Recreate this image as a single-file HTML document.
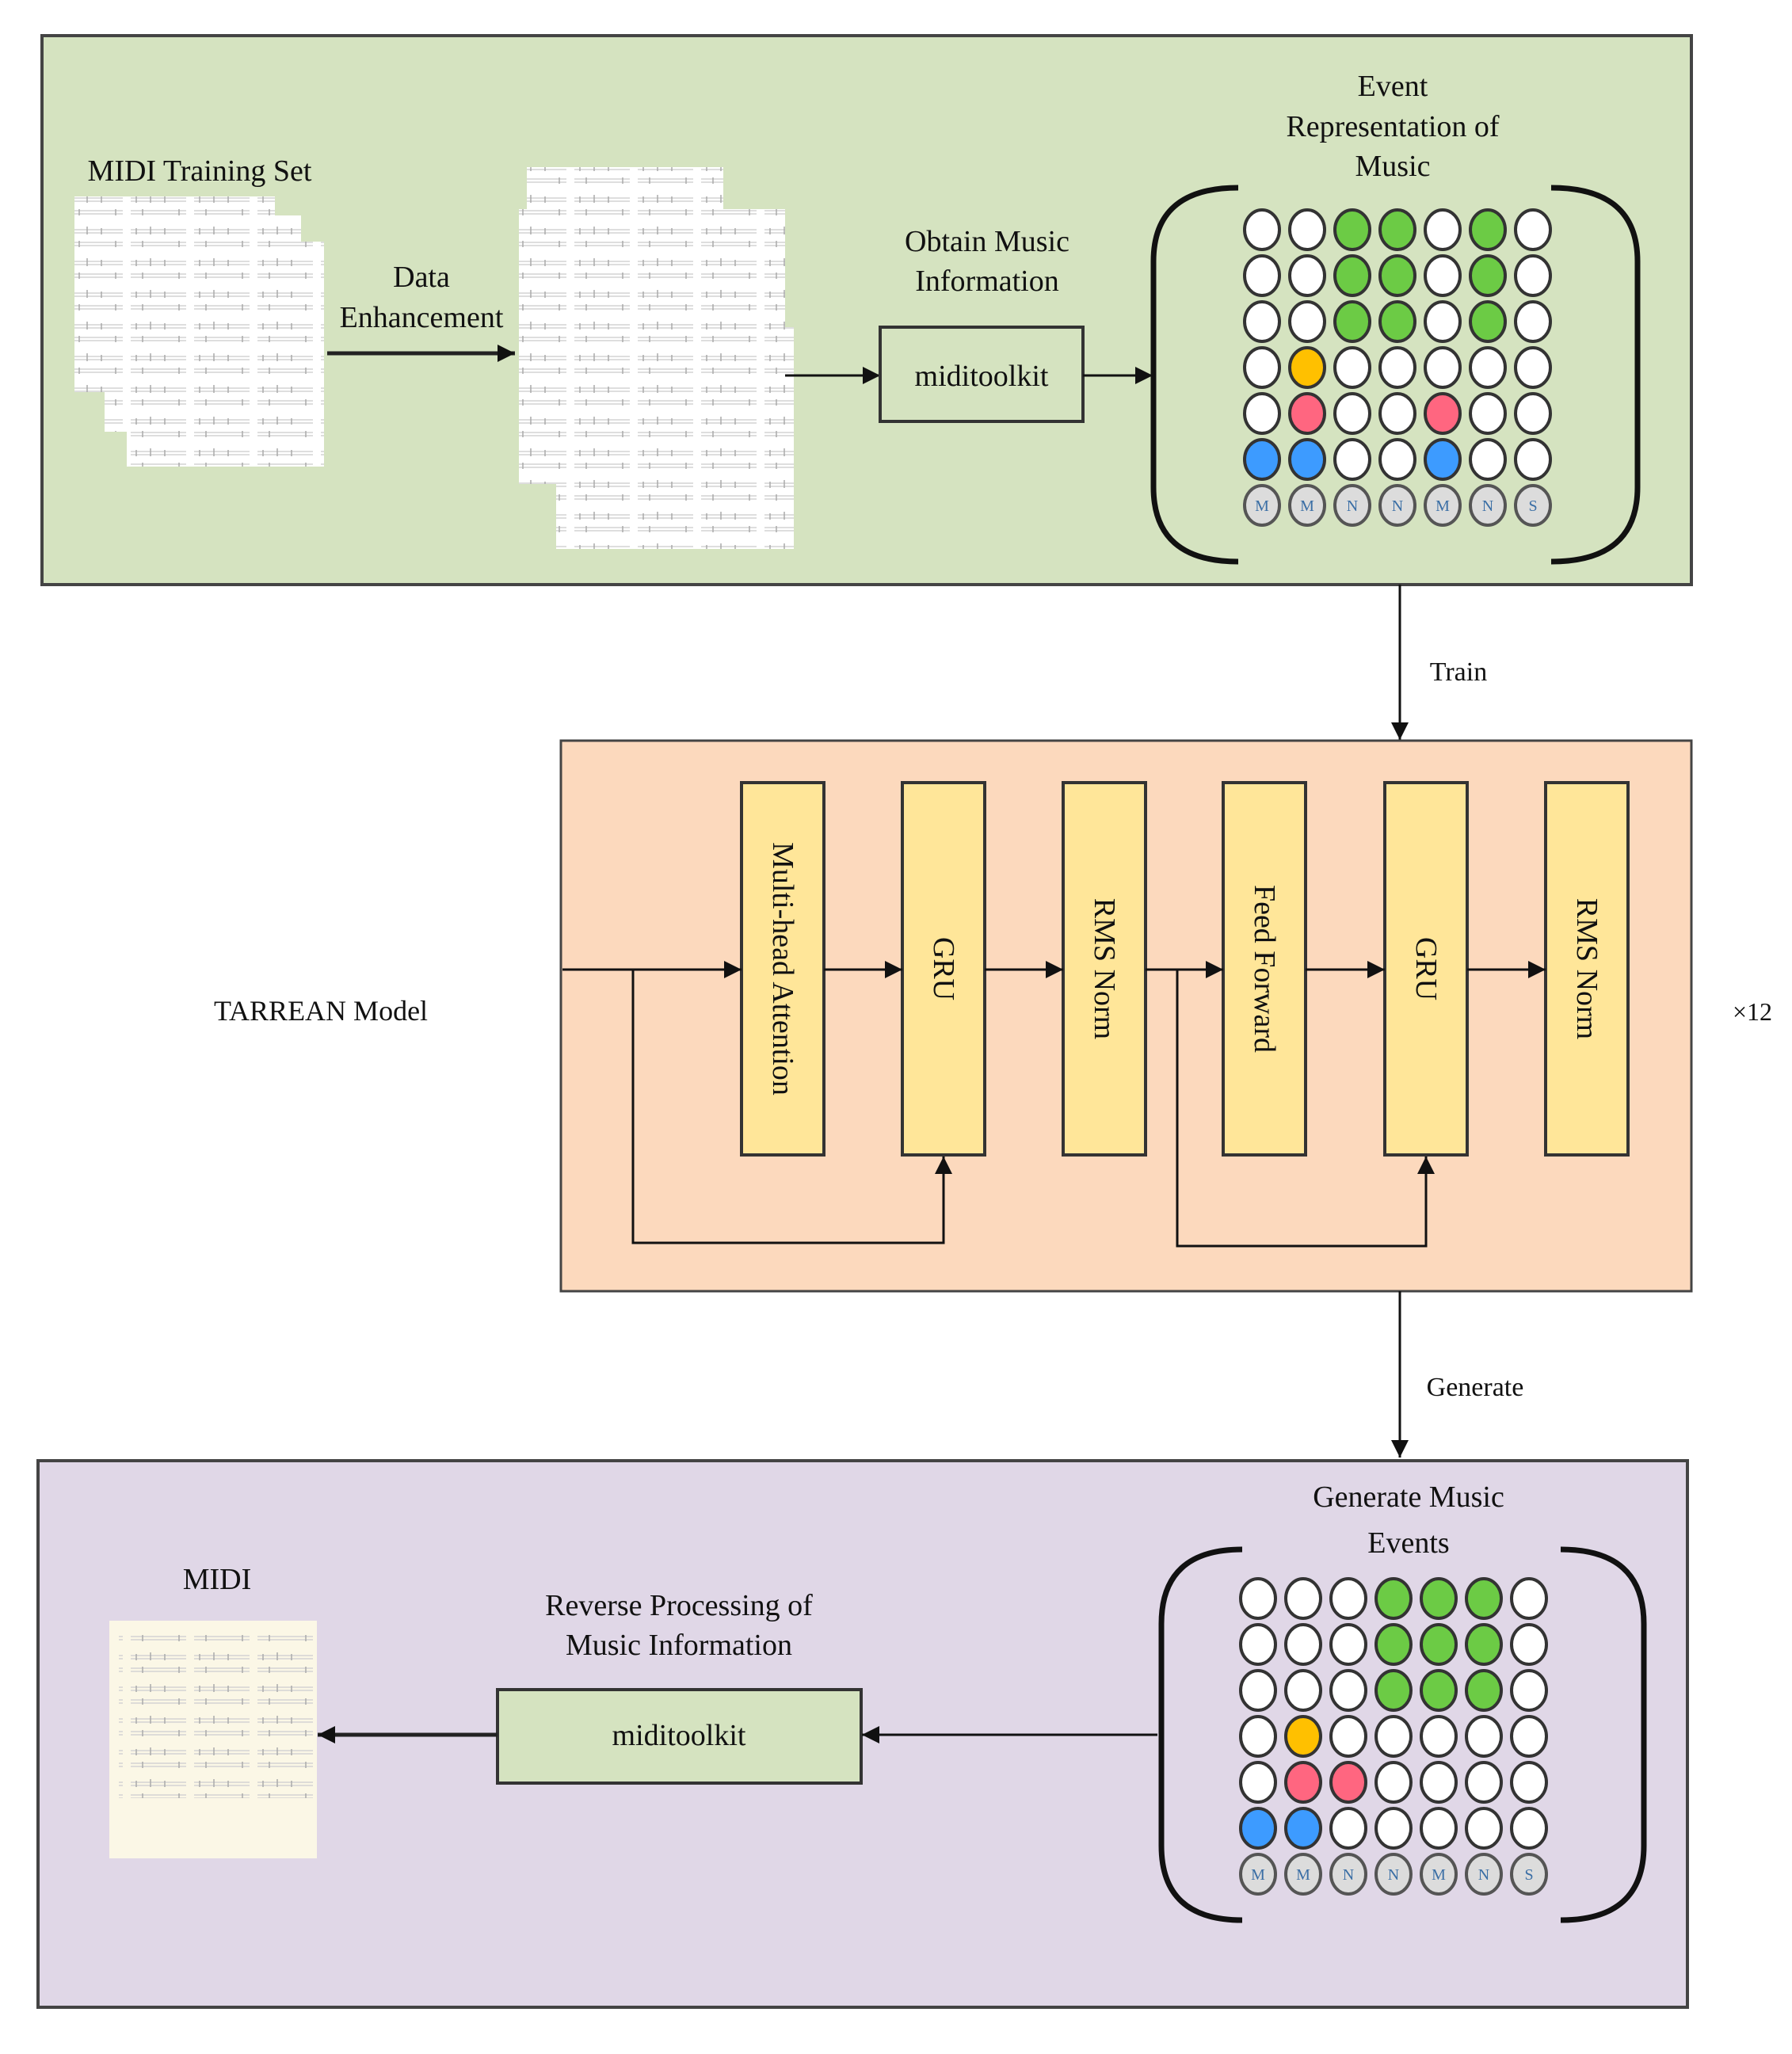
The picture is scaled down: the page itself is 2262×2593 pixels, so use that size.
<!DOCTYPE html>
<html><head><meta charset="utf-8"><style>
html,body{margin:0;padding:0;background:#fff}
svg{display:block}
text{font-family:"Liberation Serif",serif;fill:#111}
.w{fill:#fff;stroke:#333;stroke-width:4}
.g{fill:#6ccb45;stroke:#333;stroke-width:4}
.y{fill:#ffc000;stroke:#333;stroke-width:4}
.r{fill:#ff6680;stroke:#333;stroke-width:4}
.b{fill:#3d9bff;stroke:#333;stroke-width:4}
.l{fill:#dcdcdc;stroke:#555;stroke-width:4}
.lt{font-size:20px;fill:#3a6ea5;text-anchor:middle}
.ln{stroke:#111;stroke-width:3;fill:none}
.lk{stroke:#222;stroke-width:5;fill:none}
.yb{fill:#ffe699;stroke:#333;stroke-width:4}
.vt{font-size:38px;text-anchor:middle;dominant-baseline:central}
</style></head><body>
<svg width="2262" height="2593" viewBox="0 0 2262 2593" xmlns="http://www.w3.org/2000/svg">
<defs>
<marker id="A" viewBox="0 0 10 10" refX="10" refY="5" markerWidth="22" markerHeight="22" markerUnits="userSpaceOnUse" orient="auto"><path d="M0,0 L10,5 L0,10z" fill="#111"/></marker>
<pattern id="sh" width="80" height="40" patternUnits="userSpaceOnUse">
<path d="M5 10 H75 M5 14 H75 M5 26 H75 M5 30 H75" stroke="#d4d4d4" stroke-width="1.5"/>
<path d="M12 8 v8 M30 6 v10 M48 8 v8 M66 24 v8 M20 24 v8" stroke="#aaa" stroke-width="1.5"/>
</pattern>
</defs>

<rect x="53" y="45" width="2082" height="693" fill="#d5e3c0" stroke="#444" stroke-width="4"/>
<text x="252" y="228" font-size="38" text-anchor="middle">MIDI Training Set</text>
<rect x="94" y="248" width="253" height="247" fill="#fff"/><rect x="94" y="248" width="253" height="247" fill="url(#sh)"/>
<rect x="132" y="272" width="248" height="273" fill="#fff"/><rect x="132" y="272" width="248" height="273" fill="url(#sh)"/>
<rect x="160" y="305" width="249" height="284" fill="#fff"/><rect x="160" y="305" width="249" height="284" fill="url(#sh)"/>
<text x="532" y="362" font-size="38" text-anchor="middle">Data</text>
<text x="532" y="413" font-size="38" text-anchor="middle">Enhancement</text>
<line x1="413" y1="446" x2="650" y2="446" class="lk" marker-end="url(#A)"/>
<rect x="665" y="211" width="248" height="268" fill="#fff"/><rect x="665" y="211" width="248" height="268" fill="url(#sh)"/>
<rect x="655" y="264" width="336" height="347" fill="#fff"/><rect x="655" y="264" width="336" height="347" fill="url(#sh)"/>
<rect x="702" y="413" width="300" height="280" fill="#fff"/><rect x="702" y="413" width="300" height="280" fill="url(#sh)"/>
<line x1="991" y1="474" x2="1111" y2="474" class="ln" marker-end="url(#A)"/>
<text x="1246" y="317" font-size="38" text-anchor="middle">Obtain Music</text>
<text x="1246" y="367" font-size="38" text-anchor="middle">Information</text>
<rect x="1111" y="413" width="256" height="119" fill="#d5e3c0" stroke="#333" stroke-width="4"/>
<text x="1239" y="487" font-size="38" text-anchor="middle">miditoolkit</text>
<line x1="1367" y1="474" x2="1455" y2="474" class="ln" marker-end="url(#A)"/>
<text x="1758" y="121" font-size="38" text-anchor="middle">Event</text>
<text x="1758" y="172" font-size="38" text-anchor="middle">Representation of</text>
<text x="1758" y="222" font-size="38" text-anchor="middle">Music</text>
<path d="M1563 237 Q1456 237 1456 330 L1456 615 Q1456 709 1563 709" stroke="#111" stroke-width="7" fill="none"/>
<path d="M1958 237 Q2067 237 2067 330 L2067 615 Q2067 709 1958 709" stroke="#111" stroke-width="7" fill="none"/>
<g transform="translate(1593,290)">
<g transform="translate(0,0)"><ellipse cx="0" rx="22" ry="25" class="w"/><ellipse cx="57" rx="22" ry="25" class="w"/><ellipse cx="114" rx="22" ry="25" class="g"/><ellipse cx="171" rx="22" ry="25" class="g"/><ellipse cx="228" rx="22" ry="25" class="w"/><ellipse cx="285" rx="22" ry="25" class="g"/><ellipse cx="342" rx="22" ry="25" class="w"/></g>
<g transform="translate(0,58)"><ellipse cx="0" rx="22" ry="25" class="w"/><ellipse cx="57" rx="22" ry="25" class="w"/><ellipse cx="114" rx="22" ry="25" class="g"/><ellipse cx="171" rx="22" ry="25" class="g"/><ellipse cx="228" rx="22" ry="25" class="w"/><ellipse cx="285" rx="22" ry="25" class="g"/><ellipse cx="342" rx="22" ry="25" class="w"/></g>
<g transform="translate(0,116)"><ellipse cx="0" rx="22" ry="25" class="w"/><ellipse cx="57" rx="22" ry="25" class="w"/><ellipse cx="114" rx="22" ry="25" class="g"/><ellipse cx="171" rx="22" ry="25" class="g"/><ellipse cx="228" rx="22" ry="25" class="w"/><ellipse cx="285" rx="22" ry="25" class="g"/><ellipse cx="342" rx="22" ry="25" class="w"/></g>
<g transform="translate(0,174)"><ellipse cx="0" rx="22" ry="25" class="w"/><ellipse cx="57" rx="22" ry="25" class="y"/><ellipse cx="114" rx="22" ry="25" class="w"/><ellipse cx="171" rx="22" ry="25" class="w"/><ellipse cx="228" rx="22" ry="25" class="w"/><ellipse cx="285" rx="22" ry="25" class="w"/><ellipse cx="342" rx="22" ry="25" class="w"/></g>
<g transform="translate(0,232)"><ellipse cx="0" rx="22" ry="25" class="w"/><ellipse cx="57" rx="22" ry="25" class="r"/><ellipse cx="114" rx="22" ry="25" class="w"/><ellipse cx="171" rx="22" ry="25" class="w"/><ellipse cx="228" rx="22" ry="25" class="r"/><ellipse cx="285" rx="22" ry="25" class="w"/><ellipse cx="342" rx="22" ry="25" class="w"/></g>
<g transform="translate(0,290)"><ellipse cx="0" rx="22" ry="25" class="b"/><ellipse cx="57" rx="22" ry="25" class="b"/><ellipse cx="114" rx="22" ry="25" class="w"/><ellipse cx="171" rx="22" ry="25" class="w"/><ellipse cx="228" rx="22" ry="25" class="b"/><ellipse cx="285" rx="22" ry="25" class="w"/><ellipse cx="342" rx="22" ry="25" class="w"/></g>
<g transform="translate(0,348)"><ellipse cx="0" rx="22" ry="25" class="l"/><ellipse cx="57" rx="22" ry="25" class="l"/><ellipse cx="114" rx="22" ry="25" class="l"/><ellipse cx="171" rx="22" ry="25" class="l"/><ellipse cx="228" rx="22" ry="25" class="l"/><ellipse cx="285" rx="22" ry="25" class="l"/><ellipse cx="342" rx="22" ry="25" class="l"/>
<text x="0" y="7" class="lt">M</text><text x="57" y="7" class="lt">M</text><text x="114" y="7" class="lt">N</text><text x="171" y="7" class="lt">N</text><text x="228" y="7" class="lt">M</text><text x="285" y="7" class="lt">N</text><text x="342" y="7" class="lt">S</text></g>
</g>

<line x1="1767" y1="738" x2="1767" y2="934" class="ln" marker-end="url(#A)"/>
<text x="1841" y="859" font-size="34" text-anchor="middle">Train</text>

<rect x="708" y="935" width="1427" height="695" fill="#fcd9bd" stroke="#444" stroke-width="3"/>
<text x="405" y="1288" font-size="36" text-anchor="middle">TARREAN Model</text>
<text x="2212" y="1288" font-size="32" text-anchor="middle">×12</text>
<rect x="936" y="988" width="104" height="470" class="yb"/>
<rect x="1139" y="988" width="104" height="470" class="yb"/>
<rect x="1342" y="988" width="104" height="470" class="yb"/>
<rect x="1544" y="988" width="104" height="470" class="yb"/>
<rect x="1748" y="988" width="104" height="470" class="yb"/>
<rect x="1951" y="988" width="104" height="470" class="yb"/>
<text class="vt" transform="translate(988,1223) rotate(90)">Multi-head Attention</text>
<text class="vt" transform="translate(1191,1223) rotate(90)">GRU</text>
<text class="vt" transform="translate(1394,1223) rotate(90)">RMS Norm</text>
<text class="vt" transform="translate(1596,1223) rotate(90)">Feed Forward</text>
<text class="vt" transform="translate(1800,1223) rotate(90)">GRU</text>
<text class="vt" transform="translate(2003,1223) rotate(90)">RMS Norm</text>
<line x1="710" y1="1224" x2="936" y2="1224" class="ln" marker-end="url(#A)"/>
<line x1="1040" y1="1224" x2="1139" y2="1224" class="ln" marker-end="url(#A)"/>
<line x1="1243" y1="1224" x2="1342" y2="1224" class="ln" marker-end="url(#A)"/>
<line x1="1446" y1="1224" x2="1544" y2="1224" class="ln" marker-end="url(#A)"/>
<line x1="1648" y1="1224" x2="1748" y2="1224" class="ln" marker-end="url(#A)"/>
<line x1="1852" y1="1224" x2="1951" y2="1224" class="ln" marker-end="url(#A)"/>
<path d="M799 1224 V1569 H1191 V1460" class="ln" marker-end="url(#A)"/>
<path d="M1486 1224 V1573 H1800 V1460" class="ln" marker-end="url(#A)"/>

<line x1="1767" y1="1630" x2="1767" y2="1840" class="ln" marker-end="url(#A)"/>
<text x="1862" y="1762" font-size="34" text-anchor="middle">Generate</text>

<rect x="48" y="1844" width="2082" height="690" fill="#e0d7e7" stroke="#444" stroke-width="4"/>
<text x="274" y="2006" font-size="38" text-anchor="middle">MIDI</text>
<rect x="138" y="2046" width="262" height="300" fill="#fbf7e6"/>
<rect x="150" y="2060" width="245" height="210" fill="url(#sh)"/>
<text x="857" y="2039" font-size="38" text-anchor="middle">Reverse Processing of</text>
<text x="857" y="2089" font-size="38" text-anchor="middle">Music Information</text>
<rect x="628" y="2133" width="459" height="118" fill="#d5e3c0" stroke="#333" stroke-width="4"/>
<text x="857" y="2203" font-size="38" text-anchor="middle">miditoolkit</text>
<line x1="628" y1="2190" x2="401" y2="2190" class="lk" marker-end="url(#A)"/>
<line x1="1461" y1="2190" x2="1088" y2="2190" class="ln" marker-end="url(#A)"/>
<text x="1778" y="1902" font-size="38" text-anchor="middle">Generate Music</text>
<text x="1778" y="1960" font-size="38" text-anchor="middle">Events</text>
<path d="M1568 1956 Q1466 1956 1466 2050 L1466 2330 Q1466 2424 1568 2424" stroke="#111" stroke-width="7" fill="none"/>
<path d="M1970 1956 Q2075 1956 2075 2050 L2075 2330 Q2075 2424 1970 2424" stroke="#111" stroke-width="7" fill="none"/>
<g transform="translate(1588,2018)">
<g transform="translate(0,0)"><ellipse cx="0" rx="22" ry="25" class="w"/><ellipse cx="57" rx="22" ry="25" class="w"/><ellipse cx="114" rx="22" ry="25" class="w"/><ellipse cx="171" rx="22" ry="25" class="g"/><ellipse cx="228" rx="22" ry="25" class="g"/><ellipse cx="285" rx="22" ry="25" class="g"/><ellipse cx="342" rx="22" ry="25" class="w"/></g>
<g transform="translate(0,58)"><ellipse cx="0" rx="22" ry="25" class="w"/><ellipse cx="57" rx="22" ry="25" class="w"/><ellipse cx="114" rx="22" ry="25" class="w"/><ellipse cx="171" rx="22" ry="25" class="g"/><ellipse cx="228" rx="22" ry="25" class="g"/><ellipse cx="285" rx="22" ry="25" class="g"/><ellipse cx="342" rx="22" ry="25" class="w"/></g>
<g transform="translate(0,116)"><ellipse cx="0" rx="22" ry="25" class="w"/><ellipse cx="57" rx="22" ry="25" class="w"/><ellipse cx="114" rx="22" ry="25" class="w"/><ellipse cx="171" rx="22" ry="25" class="g"/><ellipse cx="228" rx="22" ry="25" class="g"/><ellipse cx="285" rx="22" ry="25" class="g"/><ellipse cx="342" rx="22" ry="25" class="w"/></g>
<g transform="translate(0,174)"><ellipse cx="0" rx="22" ry="25" class="w"/><ellipse cx="57" rx="22" ry="25" class="y"/><ellipse cx="114" rx="22" ry="25" class="w"/><ellipse cx="171" rx="22" ry="25" class="w"/><ellipse cx="228" rx="22" ry="25" class="w"/><ellipse cx="285" rx="22" ry="25" class="w"/><ellipse cx="342" rx="22" ry="25" class="w"/></g>
<g transform="translate(0,232)"><ellipse cx="0" rx="22" ry="25" class="w"/><ellipse cx="57" rx="22" ry="25" class="r"/><ellipse cx="114" rx="22" ry="25" class="r"/><ellipse cx="171" rx="22" ry="25" class="w"/><ellipse cx="228" rx="22" ry="25" class="w"/><ellipse cx="285" rx="22" ry="25" class="w"/><ellipse cx="342" rx="22" ry="25" class="w"/></g>
<g transform="translate(0,290)"><ellipse cx="0" rx="22" ry="25" class="b"/><ellipse cx="57" rx="22" ry="25" class="b"/><ellipse cx="114" rx="22" ry="25" class="w"/><ellipse cx="171" rx="22" ry="25" class="w"/><ellipse cx="228" rx="22" ry="25" class="w"/><ellipse cx="285" rx="22" ry="25" class="w"/><ellipse cx="342" rx="22" ry="25" class="w"/></g>
<g transform="translate(0,348)"><ellipse cx="0" rx="22" ry="25" class="l"/><ellipse cx="57" rx="22" ry="25" class="l"/><ellipse cx="114" rx="22" ry="25" class="l"/><ellipse cx="171" rx="22" ry="25" class="l"/><ellipse cx="228" rx="22" ry="25" class="l"/><ellipse cx="285" rx="22" ry="25" class="l"/><ellipse cx="342" rx="22" ry="25" class="l"/>
<text x="0" y="7" class="lt">M</text><text x="57" y="7" class="lt">M</text><text x="114" y="7" class="lt">N</text><text x="171" y="7" class="lt">N</text><text x="228" y="7" class="lt">M</text><text x="285" y="7" class="lt">N</text><text x="342" y="7" class="lt">S</text></g>
</g>
</svg>
</body></html>
